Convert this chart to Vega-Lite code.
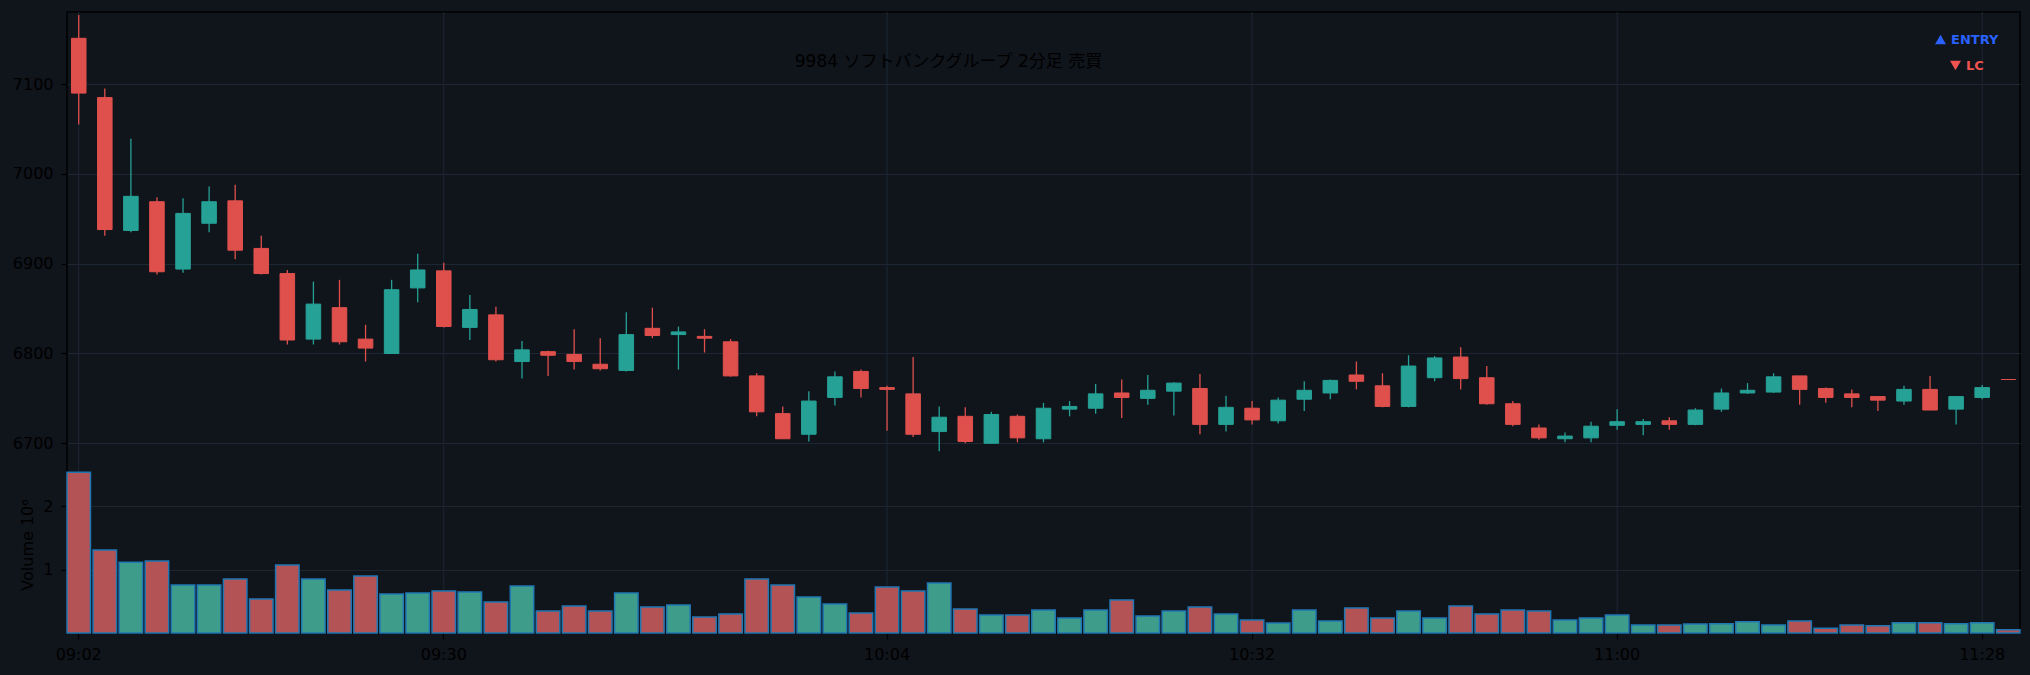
{
  "$schema": "https://vega.github.io/schema/vega-lite/v6.json",
  "width": 1953,
  "height": 621,
  "autosize": {"type": "none"},
  "padding": {"left": 67, "top": 12, "right": 10, "bottom": 42},
  "background": "#10141b",
  "config": {
    "view": {"stroke": "#000000", "strokeWidth": 1.5, "fill": "#10141b"},
    "font": "DejaVu Sans",
    "axis": {
      "labelFont": "DejaVu Sans",
      "labelColor": "#000000",
      "labelFontSize": 16,
      "tickColor": "#000000",
      "tickSize": 6,
      "tickWidth": 1.2,
      "gridColor": "#1c2733",
      "gridWidth": 1,
      "domain": false,
      "titleFont": "DejaVu Sans",
      "titleColor": "#000000",
      "titleFontSize": 16,
      "titleFontWeight": "normal"
    },
    "legend": {
      "orient": "top-right",
      "labelFont": "DejaVu Sans",
      "labelFontWeight": "bold",
      "labelFontSize": 13,
      "symbolSize": 120,
      "symbolStrokeWidth": 0,
      "symbolOpacity": 1,
      "padding": 0,
      "offset": 21,
      "layout": {"top-right": {"direction": "vertical", "margin": 12, "center": true}}
    }
  },
  "title": {
    "text": "9984 ソフトバンクグループ 2分足 売買",
    "font": "DejaVu Sans, Noto Sans CJK JP",
    "fontSize": 17,
    "fontWeight": "normal",
    "color": "#000000",
    "anchor": "middle",
    "offset": 0,
    "baseline": "middle",
    "dx": -95,
    "dy": 67
  },
  "datasets": {
    "bars": [
      {"t": "09:02", "open": 7151, "high": 7177, "low": 7055, "close": 7090, "volume": 2534000},
      {"t": "09:04", "open": 7085, "high": 7095, "low": 6931, "close": 6938, "volume": 1308000},
      {"t": "09:06", "open": 6937, "high": 7039, "low": 6935, "close": 6975, "volume": 1114000},
      {"t": "09:08", "open": 6969, "high": 6974, "low": 6888, "close": 6891, "volume": 1135000},
      {"t": "09:10", "open": 6894, "high": 6973, "low": 6890, "close": 6956, "volume": 757000},
      {"t": "09:12", "open": 6945, "high": 6986, "low": 6935, "close": 6969, "volume": 757000},
      {"t": "09:14", "open": 6970, "high": 6988, "low": 6905, "close": 6915, "volume": 852000},
      {"t": "09:16", "open": 6917, "high": 6931, "low": 6888, "close": 6889, "volume": 537000},
      {"t": "09:18", "open": 6889, "high": 6893, "low": 6810, "close": 6815, "volume": 1072000},
      {"t": "09:20", "open": 6816, "high": 6880, "low": 6810, "close": 6855, "volume": 852000},
      {"t": "09:22", "open": 6851, "high": 6882, "low": 6810, "close": 6813, "volume": 679000},
      {"t": "09:24", "open": 6816, "high": 6832, "low": 6791, "close": 6806, "volume": 899000},
      {"t": "09:26", "open": 6800, "high": 6882, "low": 6800, "close": 6871, "volume": 616000},
      {"t": "09:28", "open": 6873, "high": 6911, "low": 6857, "close": 6893, "volume": 632000},
      {"t": "09:30", "open": 6892, "high": 6901, "low": 6829, "close": 6830, "volume": 663000},
      {"t": "09:32", "open": 6829, "high": 6865, "low": 6815, "close": 6849, "volume": 647000},
      {"t": "09:34", "open": 6843, "high": 6852, "low": 6791, "close": 6793, "volume": 490000},
      {"t": "09:36", "open": 6791, "high": 6814, "low": 6772, "close": 6804, "volume": 742000},
      {"t": "09:38", "open": 6802, "high": 6803, "low": 6775, "close": 6798, "volume": 347000},
      {"t": "09:40", "open": 6799, "high": 6827, "low": 6782, "close": 6791, "volume": 426000},
      {"t": "09:42", "open": 6788, "high": 6817, "low": 6781, "close": 6783, "volume": 347000},
      {"t": "09:44", "open": 6781, "high": 6846, "low": 6780, "close": 6821, "volume": 632000},
      {"t": "09:46", "open": 6828, "high": 6851, "low": 6817, "close": 6820, "volume": 411000},
      {"t": "09:48", "open": 6821, "high": 6830, "low": 6782, "close": 6824, "volume": 442000},
      {"t": "09:50", "open": 6819, "high": 6827, "low": 6801, "close": 6817, "volume": 253000},
      {"t": "09:52", "open": 6813, "high": 6816, "low": 6774, "close": 6775, "volume": 300000},
      {"t": "09:54", "open": 6775, "high": 6778, "low": 6730, "close": 6735, "volume": 853000},
      {"t": "09:56", "open": 6733, "high": 6741, "low": 6705, "close": 6705, "volume": 758000},
      {"t": "09:58", "open": 6710, "high": 6758, "low": 6702, "close": 6747, "volume": 568000},
      {"t": "10:00", "open": 6751, "high": 6780, "low": 6742, "close": 6774, "volume": 458000},
      {"t": "10:02", "open": 6780, "high": 6782, "low": 6751, "close": 6761, "volume": 316000},
      {"t": "10:04", "open": 6762, "high": 6764, "low": 6714, "close": 6760, "volume": 726000},
      {"t": "10:06", "open": 6755, "high": 6796, "low": 6707, "close": 6710, "volume": 663000},
      {"t": "10:08", "open": 6713, "high": 6741, "low": 6691, "close": 6729, "volume": 789000},
      {"t": "10:10", "open": 6730, "high": 6740, "low": 6700, "close": 6702, "volume": 379000},
      {"t": "10:12", "open": 6700, "high": 6735, "low": 6700, "close": 6732, "volume": 284000},
      {"t": "10:14", "open": 6730, "high": 6732, "low": 6701, "close": 6706, "volume": 284000},
      {"t": "10:16", "open": 6705, "high": 6745, "low": 6701, "close": 6739, "volume": 363000},
      {"t": "10:18", "open": 6738, "high": 6747, "low": 6730, "close": 6741, "volume": 237000},
      {"t": "10:20", "open": 6739, "high": 6766, "low": 6733, "close": 6755, "volume": 363000},
      {"t": "10:22", "open": 6756, "high": 6771, "low": 6728, "close": 6751, "volume": 521000},
      {"t": "10:24", "open": 6750, "high": 6776, "low": 6743, "close": 6759, "volume": 268000},
      {"t": "10:26", "open": 6758, "high": 6768, "low": 6731, "close": 6767, "volume": 347000},
      {"t": "10:28", "open": 6761, "high": 6777, "low": 6710, "close": 6721, "volume": 411000},
      {"t": "10:30", "open": 6721, "high": 6753, "low": 6713, "close": 6740, "volume": 300000},
      {"t": "10:32", "open": 6739, "high": 6747, "low": 6721, "close": 6726, "volume": 205000},
      {"t": "10:34", "open": 6725, "high": 6751, "low": 6722, "close": 6748, "volume": 158000},
      {"t": "10:36", "open": 6749, "high": 6769, "low": 6736, "close": 6759, "volume": 363000},
      {"t": "10:38", "open": 6756, "high": 6771, "low": 6749, "close": 6770, "volume": 189000},
      {"t": "10:40", "open": 6776, "high": 6791, "low": 6760, "close": 6769, "volume": 395000},
      {"t": "10:42", "open": 6764, "high": 6778, "low": 6740, "close": 6741, "volume": 237000},
      {"t": "10:44", "open": 6741, "high": 6798, "low": 6740, "close": 6786, "volume": 347000},
      {"t": "10:46", "open": 6773, "high": 6797, "low": 6769, "close": 6795, "volume": 237000},
      {"t": "10:48", "open": 6796, "high": 6807, "low": 6760, "close": 6772, "volume": 426000},
      {"t": "10:50", "open": 6773, "high": 6786, "low": 6743, "close": 6744, "volume": 300000},
      {"t": "10:52", "open": 6744, "high": 6747, "low": 6719, "close": 6721, "volume": 363000},
      {"t": "10:54", "open": 6717, "high": 6721, "low": 6704, "close": 6706, "volume": 347000},
      {"t": "10:56", "open": 6705, "high": 6712, "low": 6701, "close": 6708, "volume": 205000},
      {"t": "10:58", "open": 6706, "high": 6724, "low": 6701, "close": 6719, "volume": 237000},
      {"t": "11:00", "open": 6720, "high": 6738, "low": 6715, "close": 6724, "volume": 284000},
      {"t": "11:02", "open": 6721, "high": 6727, "low": 6709, "close": 6724, "volume": 126000},
      {"t": "11:04", "open": 6725, "high": 6729, "low": 6715, "close": 6721, "volume": 126000},
      {"t": "11:06", "open": 6721, "high": 6739, "low": 6720, "close": 6737, "volume": 142000},
      {"t": "11:08", "open": 6738, "high": 6761, "low": 6735, "close": 6756, "volume": 144000},
      {"t": "11:10", "open": 6756, "high": 6767, "low": 6755, "close": 6759, "volume": 176000},
      {"t": "11:12", "open": 6757, "high": 6778, "low": 6756, "close": 6774, "volume": 128000},
      {"t": "11:14", "open": 6775, "high": 6775, "low": 6743, "close": 6760, "volume": 191000},
      {"t": "11:16", "open": 6761, "high": 6762, "low": 6745, "close": 6751, "volume": 76000},
      {"t": "11:18", "open": 6755, "high": 6760, "low": 6740, "close": 6751, "volume": 128000},
      {"t": "11:20", "open": 6752, "high": 6752, "low": 6736, "close": 6748, "volume": 113000},
      {"t": "11:22", "open": 6747, "high": 6764, "low": 6743, "close": 6760, "volume": 160000},
      {"t": "11:24", "open": 6760, "high": 6775, "low": 6737, "close": 6737, "volume": 160000},
      {"t": "11:26", "open": 6738, "high": 6752, "low": 6721, "close": 6752, "volume": 144000},
      {"t": "11:28", "open": 6751, "high": 6765, "low": 6749, "close": 6762, "volume": 160000},
      {"t": "11:30", "open": 6771, "high": 6771, "low": 6771, "close": 6771, "volume": 50000}
    ]
  },
  "layer": [
    {
      "data": {"name": "bars"},
      "transform": [{"filter": {"field": "t", "oneOf": ["09:02", "09:30", "10:04", "10:32", "11:00", "11:28"]}}],
      "mark": {"type": "rule", "color": "#1c2733", "strokeWidth": 1},
      "encoding": {
        "x": {
          "field": "t", "type": "ordinal",
          "scale": {"type": "band", "paddingInner": 0.1, "paddingOuter": 0},
          "axis": {
            "values": ["09:02", "09:30", "10:04", "10:32", "11:00", "11:28"],
            "bandPosition": 0.5, "grid": false, "labelAngle": 0,
            "labelPadding": 7, "title": null
          }
        }
      }
    },
    {
      "layer": [
        {
          "data": {"name": "bars"},
          "mark": {"type": "rule", "strokeWidth": 1.3},
          "encoding": {
            "x": {"field": "t", "type": "ordinal", "scale": {"type": "band", "paddingInner": 0.1, "paddingOuter": 0}},
            "y": {
              "field": "low", "type": "quantitative",
              "scale": {"domain": [6685.8, 7180.3], "range": [444, 0], "nice": false, "zero": false},
              "axis": {"values": [6700, 6800, 6900, 7000, 7100], "format": "d", "grid": true, "labelPadding": 8, "title": null, "orient": "left"}
            },
            "y2": {"field": "high"},
            "color": {"condition": {"test": "datum.close > datum.open", "value": "#26a196"}, "value": "#df504d"}
          }
        },
        {
          "data": {"name": "bars"},
          "mark": {"type": "bar", "width": {"band": 0.62}, "strokeWidth": 1},
          "encoding": {
            "x": {"field": "t", "type": "ordinal", "scale": {"type": "band", "paddingInner": 0.1, "paddingOuter": 0}},
            "y": {
              "field": "open", "type": "quantitative",
              "scale": {"domain": [6685.8, 7180.3], "range": [444, 0], "nice": false, "zero": false},
              "axis": {"values": [6700, 6800, 6900, 7000, 7100], "format": "d", "grid": true, "labelPadding": 8, "title": null, "orient": "left"}
            },
            "y2": {"field": "close"},
            "color": {"condition": {"test": "datum.close > datum.open", "value": "#26a196"}, "value": "#df504d"},
            "stroke": {"condition": {"test": "datum.close > datum.open", "value": "#26a196"}, "value": "#df504d"}
          }
        },
        {
          "data": {"values": [{"marker": "ENTRY", "price": null}]},
          "mark": {"type": "point", "filled": true, "opacity": 0},
          "encoding": {
            "y": {
              "field": "price", "type": "quantitative",
              "scale": {"domain": [6685.8, 7180.3], "range": [444, 0], "nice": false, "zero": false},
              "axis": {"values": [6700, 6800, 6900, 7000, 7100], "format": "d", "grid": true, "labelPadding": 8, "title": null, "orient": "left"}
            },
            "color": {
              "field": "marker", "type": "nominal",
              "scale": {"domain": ["ENTRY"], "range": ["#2962ff"]},
              "legend": {"title": null, "labelColor": "#2962ff"}
            },
            "shape": {
              "field": "marker", "type": "nominal",
              "scale": {"domain": ["ENTRY"], "range": ["triangle-up"]},
              "legend": {"title": null, "labelColor": "#2962ff"}
            }
          }
        },
        {
          "data": {"values": [{"marker": "LC", "price": null}]},
          "mark": {"type": "point", "filled": true, "opacity": 0},
          "encoding": {
            "y": {
              "field": "price", "type": "quantitative",
              "scale": {"domain": [6685.8, 7180.3], "range": [444, 0], "nice": false, "zero": false},
              "axis": {"values": [6700, 6800, 6900, 7000, 7100], "format": "d", "grid": true, "labelPadding": 8, "title": null, "orient": "left"}
            },
            "color": {
              "field": "marker", "type": "nominal",
              "scale": {"domain": ["LC"], "range": ["#ef5350"]},
              "legend": {"title": null, "labelColor": "#ef5350"}
            },
            "shape": {
              "field": "marker", "type": "nominal",
              "scale": {"domain": ["LC"], "range": ["triangle-down"]},
              "legend": {"title": null, "labelColor": "#ef5350"}
            }
          }
        }
      ],
      "resolve": {"scale": {"color": "independent", "shape": "independent"}}
    },
    {
      "layer": [
        {
          "data": {"name": "bars"},
          "mark": {"type": "bar", "stroke": "#1f77b4", "strokeWidth": 1.5},
          "encoding": {
            "x": {"field": "t", "type": "ordinal", "scale": {"type": "band", "paddingInner": 0.1, "paddingOuter": 0}},
            "y": {
              "field": "volume", "type": "quantitative",
              "scale": {"domain": [0, 2790000], "range": [621, 444], "nice": false, "zero": true},
              "axis": {
                "values": [1000000, 2000000], "grid": true, "labelPadding": 8,
                "labelExpr": "format(datum.value / 1000000, 'd')",
                "title": "Volume  10⁶", "titlePadding": 7, "orient": "left"
              }
            },
            "color": {"condition": {"test": "datum.close > datum.open", "value": "#3e9d8a"}, "value": "#b45356"}
          }
        },
        {
          "mark": {"type": "rule", "color": "#000000", "strokeWidth": 1.5},
          "encoding": {
            "y": {
              "datum": 2790000, "type": "quantitative",
              "scale": {"domain": [0, 2790000], "range": [621, 444], "nice": false, "zero": true},
              "axis": {
                "values": [1000000, 2000000], "grid": true, "labelPadding": 8,
                "labelExpr": "format(datum.value / 1000000, 'd')",
                "title": "Volume  10⁶", "titlePadding": 7, "orient": "left"
              }
            }
          }
        }
      ]
    }
  ],
  "resolve": {"scale": {"y": "independent"}}
}
